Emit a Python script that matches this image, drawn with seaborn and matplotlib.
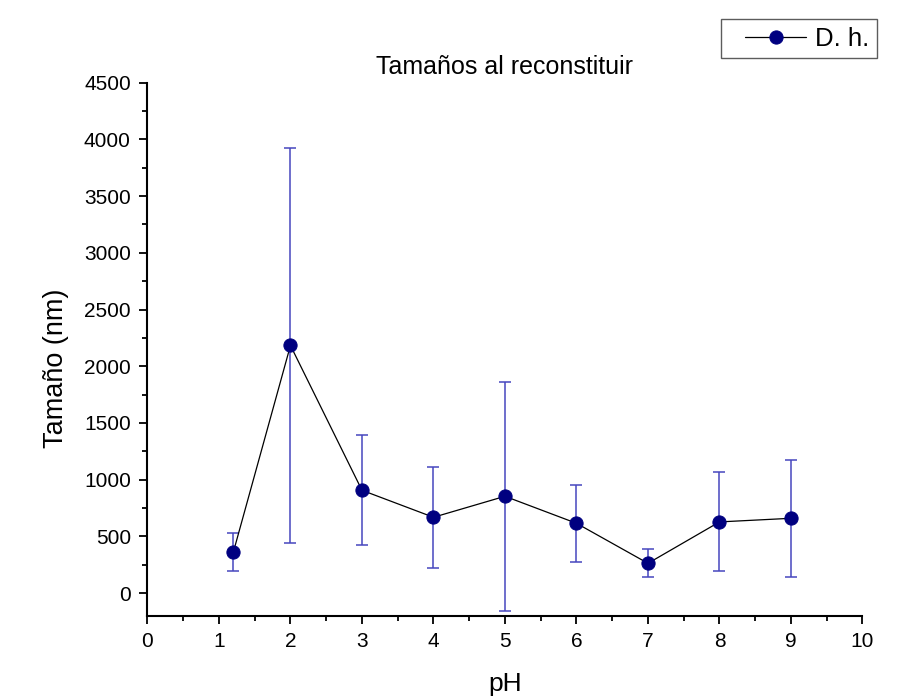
import matplotlib
matplotlib.use("Agg")
import matplotlib.pyplot as plt
import seaborn as sns
import pandas as pd
from matplotlib.ticker import MultipleLocator
from matplotlib.lines import Line2D
from matplotlib.legend_handler import HandlerLine2D

ph = [1.2, 2, 3, 4, 5, 6, 7, 8, 9]
size_nm = [358, 2183, 906, 668, 853, 615, 262, 627, 659]
err_nm = [168, 1743, 486, 445, 1010, 341, 125, 436, 518]

df = pd.DataFrame({"pH": ph, "Tamaño": size_nm, "err": err_nm})

sns.set_theme(style="ticks")
plt.rcParams['font.family'] = ['Liberation Sans', 'DejaVu Sans']
plt.rcParams['text.color'] = 'black'
plt.rcParams['axes.labelcolor'] = 'black'

fig = plt.figure(figsize=(8.97, 6.98), dpi=100)
ax = fig.add_axes([0.1644, 0.1179, 0.9615 - 0.1644, 0.8815 - 0.1179])

ax.errorbar(df["pH"], df["Tamaño"], yerr=df["err"], fmt="none",
            ecolor="#4646BE", elinewidth=1.1, capsize=4.5, capthick=1.1, zorder=1)
sns.lineplot(data=df, x="pH", y="Tamaño", ax=ax, color="black", linewidth=0.9,
             marker="o", markersize=9.5, markerfacecolor="#000080",
             markeredgecolor="#000080", label="D. h.", zorder=3, legend=False)

ax.set_xlim(0, 10)
ax.set_ylim(-200, 4500)
ax.xaxis.set_major_locator(MultipleLocator(1))
ax.xaxis.set_minor_locator(MultipleLocator(0.5))
ax.yaxis.set_major_locator(MultipleLocator(500))
ax.yaxis.set_minor_locator(MultipleLocator(250))

for s in ["top", "right"]:
    ax.spines[s].set_visible(False)
for s in ["left", "bottom"]:
    ax.spines[s].set_color("black")
    ax.spines[s].set_linewidth(1.5)

ax.tick_params(axis="both", which="major", direction="out", length=6, width=1.3,
               labelsize=15, colors="black", pad=6)
ax.tick_params(axis="both", which="minor", direction="out", length=3.5, width=1.3,
               colors="black")

ax.set_xlabel("pH", fontsize=19, labelpad=15)
ax.set_ylabel("Tamaño (nm)", fontsize=19.5)
ax.yaxis.set_label_coords(-0.110, 0.464)
ax.set_title("Tamaños al reconstituir", fontsize=18, pad=6, color="black")

handles, labels = ax.get_legend_handles_labels()
leg = fig.legend(handles, labels, loc="upper right",
                 bbox_to_anchor=(877 / 897, 1 - 19 / 698),
                 fontsize=18.5, frameon=True, fancybox=False, handlelength=3.0,
                 borderpad=0.3, handletextpad=0.35, borderaxespad=0,
                 handler_map={Line2D: HandlerLine2D(xpad=0.63)})
leg.get_frame().set_edgecolor("#333333")
leg.get_frame().set_linewidth(1.0)

fig.savefig("out.png", dpi=100, facecolor="white")
